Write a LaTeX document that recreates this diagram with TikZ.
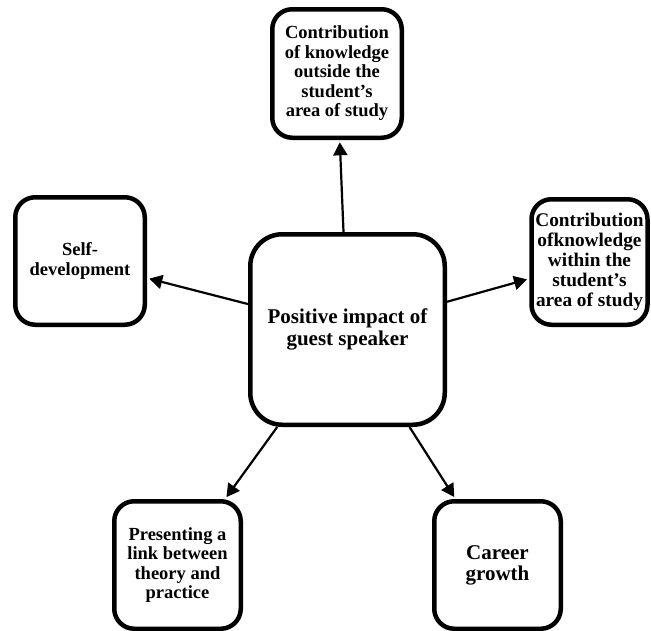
\documentclass[tikz,border=0pt]{standalone}
\usepackage{fontspec}
\setmainfont{Liberation Serif}
\usetikzlibrary{arrows.meta}
\begin{document}
\begin{tikzpicture}[x=1pt,y=-1pt,
  box/.style={draw=black, fill=white, line width=4.5pt, rounded corners=20pt,
    align=center, inner sep=0pt, font=\bfseries\fontsize{18.5}{19.5}\selectfont},
  bigbox/.style={box, rounded corners=32pt, font=\bfseries\fontsize{21}{21.5}\selectfont},
  link/.style={line width=2.2pt, -{Triangle[length=13pt,width=14pt]},
    shorten >=2.3pt}]
\useasboundingbox (0,0) rectangle (651,630);
\node[bigbox, minimum width=194.5pt, minimum height=190.5pt] (c) at (347.5,329.5)
  {Positive impact of\\guest speaker};
\node[box, minimum width=129.5pt, minimum height=128.5pt] (t) at (337,73.5)
  {Contribution\\of knowledge\\outside the\\student’s\\area of study};
\node[box, minimum width=129.5pt, minimum height=127.5pt] (l) at (80,261)
  {Self-\\development};
\node[box, minimum width=116pt, minimum height=125.5pt,
  font=\bfseries\fontsize{19.3}{20}\selectfont] (r) at (589.5,262)
  {Contribution\\ofknowledge\\within the\\student’s\\area of study};
\node[box, minimum width=126.5pt, minimum height=127.5pt] (bl) at (177.5,565)
  {Presenting a\\link between\\theory and\\practice};
\node[box, minimum width=126.5pt, minimum height=127.5pt,
  font=\bfseries\fontsize{21}{21}\selectfont] (br) at (497.5,565)
  {Career\\growth};
\draw[link] (c) -- (t);
\draw[link] (c) -- (l);
\draw[link] (c) -- (r);
\draw[link] (c) -- (bl);
\draw[link] (c) -- (br);
\end{tikzpicture}
\end{document}
